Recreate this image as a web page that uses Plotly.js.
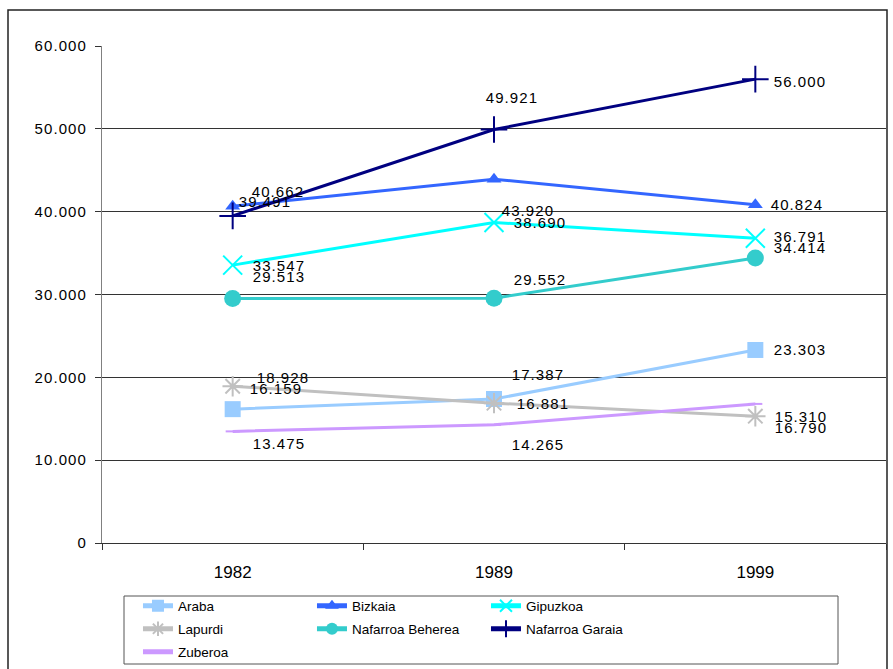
<!DOCTYPE html>
<html>
<head>
<meta charset="utf-8">
<script src="https://cdn.plot.ly/plotly-3.0.1.min.js"></script>
<style>
html,body{margin:0;padding:0;background:#fff;}
#chart{width:893px;height:669px;}
#chart .ytick text, #chart .annotation-text { letter-spacing: 1.1px; }
</style>
</head>
<body>
<div id="chart"></div>
<script>
// ---- data ----
const years = ['1982', '1989', '1999'];
const seriesNames = ['Araba', 'Bizkaia', 'Gipuzkoa', 'Lapurdi', 'Nafarroa Beherea', 'Nafarroa Garaia', 'Zuberoa'];
const araba = [16159, 17387, 23303];
const bizkaia = [40662, 43920, 40824];
const gipuzkoa = [33547, 38690, 36791];
const lapurdi = [18928, 16881, 15310];
const nafarroaBeherea = [29513, 29552, 34414];
const nafarroaGaraia = [39491, 49921, 56000];
const zuberoa = [13475, 14265, 16790];
const yTickVals = [0, 10000, 20000, 30000, 40000, 50000, 60000];

const allValues = [araba, bizkaia, gipuzkoa, lapurdi, nafarroaBeherea, nafarroaGaraia, zuberoa];

// ---- styles ----
const styles = [
  {color: '#99CCFF', symbol: 'square', size: 16, lw: 3, legend: 'legend'},
  {color: '#3366FF', symbol: 'triangle-up', size: 13, lw: 3, legend: 'legend'},
  {color: '#00FFFF', symbol: 'x-thin-open', size: 19, lw: 3, legend: 'legend'},
  {color: '#C0C0C0', symbol: 'asterisk-open', size: 17, lw: 3, legend: 'legend2'},
  {color: '#33CCCC', symbol: 'circle', size: 17, lw: 3, legend: 'legend2'},
  {color: '#000080', symbol: 'cross-thin-open', size: 19, lw: 3, legend: 'legend2'},
  {color: '#CC99FF', symbol: 'line-ew-open', size: 10, lw: 3, legend: 'legend3'}
];

// label offsets in pixels [xshift, yshift] per series per year
const labelOffsets = [
  [[18, 21], [19, 24], [20, 0]],
  [[20, 15], [9, -31], [17, 0]],
  [[21, 0], [21, 0], [20, 2]],
  [[25, 9], [24, 0], [21, 0]],
  [[21, 22], [21, 19], [20, 10]],
  [[7, 14], [-7, 32], [20, -2]],
  [[21, -12], [19, -20], [21, -24]]
];

function fmt(v) { return String(v).replace(/\B(?=(\d{3})+(?!\d))/g, '.'); }

const fam = 'Arial, "Liberation Sans", sans-serif';
const labelFont = {family: fam, size: 15, color: '#000'};

const traces = allValues.map((vals, k) => {
  const s = styles[k];
  const isOpen = /open/.test(s.symbol);
  return {
    type: 'scatter',
    mode: 'lines+markers',
    name: seriesNames[k],
    x: years,
    y: vals,
    legend: s.legend,
    line: {color: s.color, width: s.lw},
    marker: {
      color: s.color,
      symbol: s.symbol,
      size: s.size,
      line: {color: s.color, width: isOpen ? 2 : 0}
    },
    cliponaxis: false,
    hoverinfo: 'skip'
  };
});

const annotations = [];
allValues.forEach((vals, k) => {
  vals.forEach((v, i) => {
    annotations.push({
      x: i, y: v, xref: 'x', yref: 'y',
      text: fmt(v), showarrow: false,
      xanchor: 'left', yanchor: 'middle',
      xshift: labelOffsets[k][i][0], yshift: labelOffsets[k][i][1],
      font: labelFont
    });
  });
});

const legendBase = {
  orientation: 'h', xanchor: 'left', yanchor: 'middle',
  x: 0.0459, entrywidth: 129, entrywidthmode: 'pixels',
  itemwidth: 30, itemsizing: 'constant', bgcolor: 'rgba(0,0,0,0)', borderwidth: 0,
  font: {family: fam, size: 13.5, color: '#000'},
  traceorder: 'normal'
};

const layout = {
  width: 893, height: 669,
  margin: {l: 102, r: 7, t: 46, b: 126, pad: 0, autoexpand: false},
  paper_bgcolor: '#fff', plot_bgcolor: '#fff',
  separators: ',.',
  showlegend: true,
  xaxis: {
    type: 'category', range: [-0.5, 2.5], fixedrange: true, automargin: false,
    tickson: 'boundaries', ticks: 'outside', ticklen: 6, tickcolor: '#333', tickwidth: 1,
    showgrid: false, zeroline: false,
    showline: true, linecolor: '#333', linewidth: 1,
    tickfont: {family: fam, size: 17, color: '#000'}, ticklabelstandoff: 14
  },
  yaxis: {
    range: [0, 60000], fixedrange: true, automargin: false,
    tickmode: 'array', tickvals: yTickVals, tickformat: ',d',
    ticks: 'outside', ticklen: 6, tickcolor: '#333', tickwidth: 1,
    showgrid: true, gridcolor: '#333', gridwidth: 1,
    zeroline: false, showline: true, linecolor: '#808080', linewidth: 1,
    tickfont: labelFont, ticklabelstandoff: 5
  },
  legend: Object.assign({}, legendBase, {y: -0.1268}),
  legend2: Object.assign({}, legendBase, {y: -0.173}),
  legend3: Object.assign({}, legendBase, {y: -0.2193}),
  annotations: annotations,
  shapes: [
    {type: 'rect', xref: 'paper', yref: 'paper',
     x0: (124 - 102) / 784, x1: (838 - 102) / 784,
     y0: (543 - 664) / 497, y1: (543 - 596) / 497,
     line: {color: '#555', width: 1}, layer: 'below'},
    {type: 'rect', xref: 'paper', yref: 'paper',
     x0: (8 - 102) / 784, x1: (887 - 102) / 784,
     y0: -0.4, y1: (543 - 10) / 497,
     line: {color: '#222', width: 1.5}, layer: 'below'}
  ]
};

Plotly.newPlot('chart', traces, layout, {displayModeBar: false, staticPlot: true});
</script>
</body>
</html>
